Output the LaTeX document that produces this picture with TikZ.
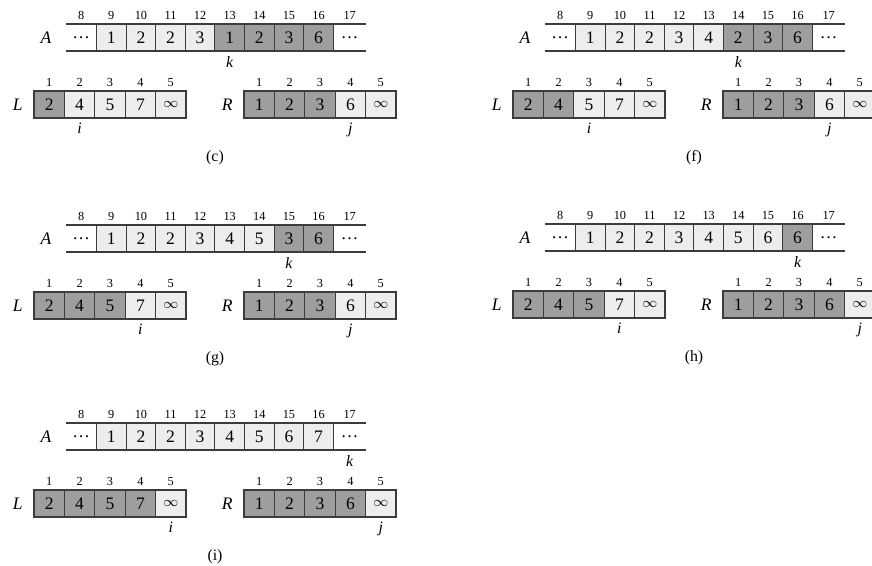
\documentclass[tikz,border=0pt]{standalone}
\usepackage{fontspec}
\setmainfont{Liberation Serif}
\usetikzlibrary{positioning}
\definecolor{cellhi}{RGB}{158,158,158}
\definecolor{celllo}{RGB}{237,237,237}
\definecolor{cellline}{RGB}{60,60,60}
\newcommand{\inft}{{\footnotesize$\infty$}}
\tikzset{
  cell/.style={draw=cellline, line width=0.6pt, inner sep=0pt, minimum height=0.54cm},
  acell/.style={cell, minimum width=0.592cm},
  lrcell/.style={cell, minimum width=0.608cm},
  dk/.style={fill=cellhi},
  lt/.style={fill=celllo},
  idx/.style={font=\scriptsize, inner sep=0pt},
  ptr/.style={font=\small\itshape, inner sep=1pt},
  rowlab/.style={font=\itshape, inner sep=0pt},
}
% one panel of the merge trace: #1 tag, #2 origin, #3 A[9..16], #4 L, #5 R, #6 k, #7 i, #8 j
\newcommand{\mergepanel}[8]{%
  \begin{scope}[shift={#2}]
    % ---- array A, open at both ends ----
    \draw[cellline, line width=0.6pt] (0,0) -- (300,0) (0,27) -- (300,27);
    \node[inner sep=0pt, minimum width=0.61cm, minimum height=0.54cm] (#1-A8) at (15.25,13.5) {\dots};
    \node[inner sep=0pt, minimum width=0.65cm, minimum height=0.54cm] (#1-A17) at (283.65,13.5) {\dots};
    \foreach \v/\s [count=\n from 9] in {#3}
      \node[acell,\s] (#1-A\n) at ({45.3+29.6*(\n-9)},13.5) {\v};
    \foreach \n in {8,...,17}
      \node[idx, above=2pt of #1-A\n] (#1-iA\n) {\n};
    \node[rowlab, left=8pt of #1-A8] (#1-Alab) {A};
    % ---- L and R ----
    \foreach \v/\s [count=\n] in {#4}
      \node[lrcell,\s] (#1-L\n) at ({-32+30.4*(\n-0.5)},80.5) {\v};
    \foreach \v/\s [count=\n] in {#5}
      \node[lrcell,\s] (#1-R\n) at ({178+30.4*(\n-0.5)},80.5) {\v};
    \foreach \n in {1,...,5} {
      \node[idx, above=2pt of #1-L\n] (#1-iL\n) {\n};
      \node[idx, above=2pt of #1-R\n] (#1-iR\n) {\n};
    }
    \node[rowlab, left=6pt of #1-L1] (#1-Llab) {L};
    \node[rowlab, left=6pt of #1-R1] (#1-Rlab) {R};
    % ---- pointers and caption ----
    \node[ptr, below=1.5pt of #1-A#6] (#1-k) {k};
    \node[ptr, below=1.5pt of #1-L#7] (#1-i) {i};
    \node[ptr, below=1.5pt of #1-R#8] (#1-j) {j};
    \node[font=\small] (#1-cap) at (149,134) {(#1)};
  \end{scope}}

\begin{document}
\begin{tikzpicture}[x=0.02cm, y=-0.02cm]
  \useasboundingbox (0,0) rectangle (872,565);
  \mergepanel{c}{(66,24)}{1/lt,2/lt,2/lt,3/lt,1/dk,2/dk,3/dk,6/dk}
    {2/dk,4/lt,5/lt,7/lt,\inft/lt}{1/dk,2/dk,3/dk,6/lt,\inft/lt}{13}{2}{4}
  \mergepanel{f}{(545,24)}{1/lt,2/lt,2/lt,3/lt,4/lt,2/dk,3/dk,6/dk}
    {2/dk,4/dk,5/lt,7/lt,\inft/lt}{1/dk,2/dk,3/dk,6/lt,\inft/lt}{14}{3}{4}
  \mergepanel{g}{(66,225)}{1/lt,2/lt,2/lt,3/lt,4/lt,5/lt,3/dk,6/dk}
    {2/dk,4/dk,5/dk,7/lt,\inft/lt}{1/dk,2/dk,3/dk,6/lt,\inft/lt}{15}{4}{4}
  \mergepanel{h}{(545,224)}{1/lt,2/lt,2/lt,3/lt,4/lt,5/lt,6/lt,6/dk}
    {2/dk,4/dk,5/dk,7/lt,\inft/lt}{1/dk,2/dk,3/dk,6/dk,\inft/lt}{16}{4}{5}
  \mergepanel{i}{(66,423)}{1/lt,2/lt,2/lt,3/lt,4/lt,5/lt,6/lt,7/lt}
    {2/dk,4/dk,5/dk,7/dk,\inft/lt}{1/dk,2/dk,3/dk,6/dk,\inft/lt}{17}{5}{5}
\end{tikzpicture}
\end{document}
